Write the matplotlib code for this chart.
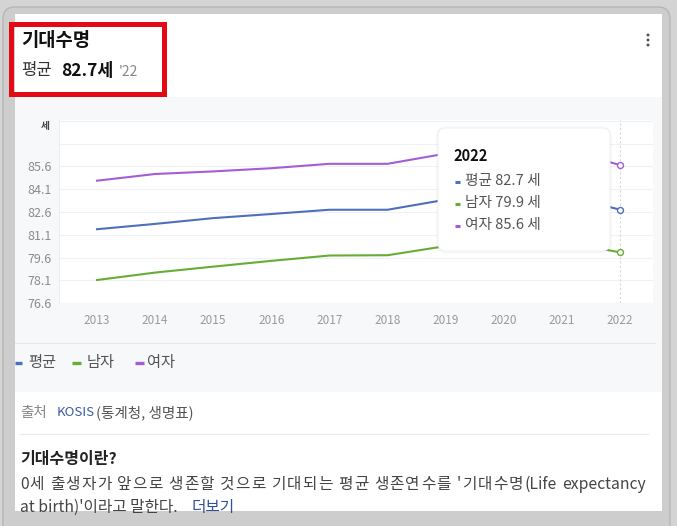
import matplotlib
matplotlib.use('Agg')
import matplotlib.pyplot as plt
from matplotlib.patches import FancyBboxPatch, Rectangle, Circle

plt.rcParams['font.family'] = ['Noto Sans CJK KR', 'DejaVu Sans']

# ---------------- data ----------------
years = [2013, 2014, 2015, 2016, 2017, 2018, 2019, 2020, 2021, 2022]
avg = [81.42, 81.77, 82.15, 82.42, 82.70, 82.70, 83.36, 83.47, 83.63, 82.71]
male = [78.08, 78.57, 78.96, 79.34, 79.69, 79.71, 80.31, 80.51, 80.61, 79.90]
female = [84.61, 85.05, 85.22, 85.43, 85.72, 85.72, 86.39, 86.46, 86.70, 85.64]
series_names = ['평균', '남자', '여자']
series_colors = ['#4e6fbd', '#67ad35', '#a35ed6']
ytick_vals = [76.55, 78.05, 79.55, 81.05, 82.55, 84.05, 85.55]
ytick_labels = ['76.6', '78.1', '79.6', '81.1', '82.6', '84.1', '85.6']
extra_grid = [87.05, 88.55]
y_unit = '세'
title = '기대수명'
sub_label = '평균'
sub_year = "'22"
source_label = '출처'
source_link = 'KOSIS'
source_rest = '(통계청, 생명표)'
desc_title = '기대수명이란?'
desc_line1 = "0세 출생자가 앞으로 생존할 것으로 기대되는 평균 생존연수를 '기대수명(Life expectancy"
desc_line2 = "at birth)'이라고 말한다."
more_label = '더보기'

W, H = 677, 526
fig = plt.figure(figsize=(W / 100, H / 100), dpi=100)
fig.patch.set_facecolor('#d4d4d4')

# ---------------- background layer ----------------
bg = fig.add_axes([0, 0, 1, 1], zorder=0)
bg.set_xlim(0, W)
bg.set_ylim(H, 0)
bg.axis('off')
bg.add_patch(FancyBboxPatch((3, 7), 667, 560, boxstyle='round,pad=0,rounding_size=12',
                            fc='#cdcdcd', ec='#b6b6b6', lw=1))
bg.add_patch(Rectangle((15, 14), 647, 497, fc='white', ec='none'))
bg.add_patch(Rectangle((15, 97), 647, 295, fc='#f7f8fa', ec='none'))
bg.plot([15, 655], [343, 343], color='#e4e7ec', lw=0.8)
bg.plot([20, 648], [434, 434], color='#ebebeb', lw=0.8)

# ---------------- chart ----------------
ax = fig.add_axes([59 / W, 1 - 303.3 / H, 594 / W, 183.3 / H], zorder=1)
ax.set_facecolor('white')
for name, vals, c in zip(series_names, [avg, male, female], series_colors):
    ax.plot(years, vals, color=c, lw=1.5, marker='o', markevery=[len(years) - 1],
            ms=4.3, mfc='white', mec=c, mew=1.0, zorder=3)
ax.set_xlim(2012.346, 2022.568)
ax.set_ylim(76.55, 88.6)
ax.set_xticks(years)
ax.set_xticklabels([str(y) for y in years])
ax.set_yticks(ytick_vals)
ax.set_yticklabels(ytick_labels)
ax.set_yticks(extra_grid, minor=True)
ax.grid(True, which='both', axis='y', color='#f0f1f4', lw=0.8)
ax.tick_params(axis='both', which='both', length=0)
ax.tick_params(axis='y', pad=5, labelsize=9, labelcolor='#8c8c8c')
ax.tick_params(axis='x', pad=8, labelsize=8.5, labelcolor='#9a9a9a')
for s in ['top', 'right', 'bottom']:
    ax.spines[s].set_visible(False)
ax.spines['left'].set_color('#eceef2')
ax.axvline(years[-1], color='#d6d6d6', lw=0.8, ls=(0, (2, 2)), zorder=2)

# ---------------- overlay ----------------
ov = fig.add_axes([0, 0, 1, 1], zorder=2)
ov.set_xlim(0, W)
ov.set_ylim(H, 0)
ov.axis('off')
renderer = fig.canvas.get_renderer()


def text_width(s, size, weight='normal'):
    t = ov.text(0, 0, s + '|', fontsize=size, fontweight=weight)
    b = ov.text(0, 0, '|', fontsize=size, fontweight=weight)
    w = t.get_window_extent(renderer).width - b.get_window_extent(renderer).width
    t.remove()
    b.remove()
    return w


def tokenize(s):
    toks, cur = [], ''
    for ch in s:
        if ch.isascii() and ch != ' ':
            cur += ch
        else:
            if cur:
                toks.append(cur)
                cur = ''
            toks.append(ch)
    if cur:
        toks.append(cur)
    return toks


def spaced_text(x0, x1, y, s, size, color):
    """Draw s so that it spans x0..x1, adding a small even gap between tokens."""
    toks = tokenize(s)
    total = text_width(s, size)
    extra = (x1 - x0 - total) / (len(toks) - 1)
    prefix = ''
    for k, tok in enumerate(toks):
        if tok != ' ':
            ov.text(x0 + text_width(prefix, size) + k * extra, y, tok,
                    fontsize=size, color=color, va='center')
        prefix += tok


# unit label
ov.text(45.5, 125.5, y_unit, fontsize=7, fontweight='bold', color='#444', ha='center', va='center')

# header
ov.text(21, 40, title, fontsize=13.5, fontweight='bold', color='#111', va='center')
ov.text(21, 71, sub_label, fontsize=12, color='#333', va='center')
ov.text(61.5, 71, f'{avg[-1]:.1f}세', fontsize=12.5, fontweight='bold', color='#111', va='center')
ov.text(119, 72, sub_year, fontsize=10, color='#888', va='center')
ov.add_patch(Rectangle((11, 23.5), 153, 70.5, fill=False, ec='#e30a14', lw=3.6))

# menu dots
for yy in (35, 40, 45):
    ov.add_patch(Circle((648, yy), 1.5, fc='#555', ec='none'))

# tooltip
ov.add_patch(FancyBboxPatch((436, 126.5), 176, 127, boxstyle='round,pad=0,rounding_size=10',
                            fc='black', alpha=0.03, ec='none'))
ov.add_patch(FancyBboxPatch((438, 128), 172, 123, boxstyle='round,pad=0,rounding_size=8',
                            fc='white', ec='#f0f0f0', lw=0.6))
ov.text(453, 156, str(years[-1]), fontsize=10.5, fontweight='bold', color='#111', va='center')
for i, (name, vals, c) in enumerate(zip(series_names, [avg, male, female], series_colors)):
    yy = 181.5 + 22 * i
    ov.plot([454.5, 459.5], [yy, yy], color=c, lw=2.2, solid_capstyle='butt')
    ov.text(465, yy, f'{name} {vals[-1]:.1f} 세', fontsize=10.6, color='#555', va='center')

# legend
leg_items = [(15, 22, 28), (72, 81, 87), (135, 144, 147)]
for (x0, x1, tx), name, c in zip(leg_items, series_names, series_colors):
    ov.plot([x0, x1], [363, 363], color=c, lw=2.4, solid_capstyle='butt')
    ov.text(tx, 363, name, fontsize=11, color='#555', va='center')

# source
ov.text(20, 412.5, source_label, fontsize=10.5, color='#888', va='center')
ov.text(57, 412.5, source_link, fontsize=9.5, color='#3a5aa0', va='center')
ov.text(96, 412.5, source_rest, fontsize=10.5, color='#555', va='center')

# description
ov.text(20, 459, desc_title, fontsize=11.5, fontweight='bold', color='#222', va='center')
spaced_text(20, 646, 484.5, desc_line1, 11.3, '#444')

clip = Rectangle((15, 14), 647, 497, transform=ov.transData)
t2 = ov.text(20, 507.5, desc_line2, fontsize=11.3, color='#444', va='center')
t3 = ov.text(192, 507.5, more_label, fontsize=11.3, color='#2d4f9e', va='center')
for t in (t2, t3):
    t.set_clip_path(clip)

fig.savefig('out.png', dpi=100, facecolor=fig.get_facecolor())
